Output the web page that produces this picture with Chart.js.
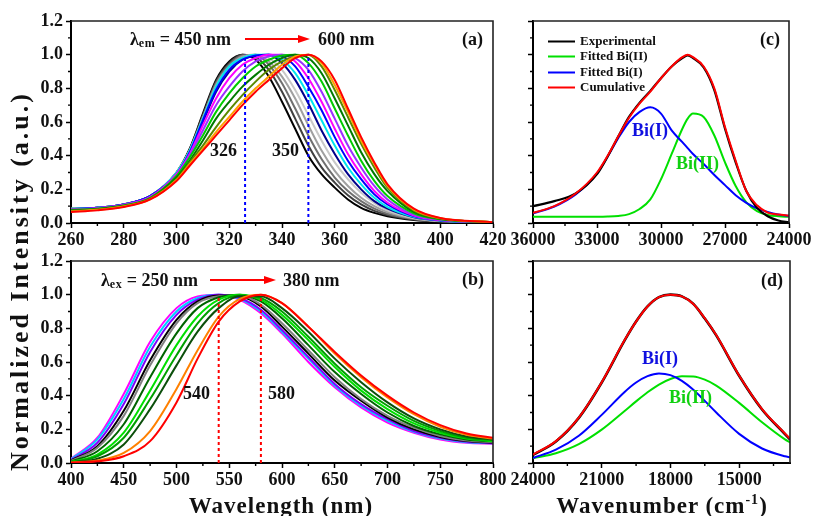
<!DOCTYPE html>
<html>
<head>
<meta charset="utf-8">
<script src="https://cdn.jsdelivr.net/npm/chart.js@4.4.1/dist/chart.umd.min.js"></script>
<style>
body { margin:0; background:#fff; width:814px; height:516px; overflow:hidden; position:relative;
  font-family:"Liberation Serif","Times New Roman",serif; font-weight:bold; color:#111; }
canvas { position:absolute; }
.t { position:absolute; transform:translate(-50%,-50%); white-space:nowrap; line-height:1; }
.l { position:absolute; transform:translateY(-50%); white-space:nowrap; line-height:1; font-size:18px; }
.lg { position:absolute; left:548px; transform:translateY(-50%); font-size:13px; line-height:1; white-space:nowrap; }
.lg i { display:inline-block; width:27px; height:2.5px; margin-right:5px; vertical-align:middle; }
</style>
</head>
<body>
<canvas id="ca" width="510" height="250" style="left:0;top:0"></canvas>
<canvas id="cb" width="510" height="250" style="left:0;top:240px"></canvas>
<canvas id="cc" width="314" height="250" style="left:500px;top:0"></canvas>
<canvas id="cd" width="314" height="250" style="left:500px;top:240px"></canvas>

<svg width="814" height="516" style="position:absolute;left:0;top:0">
  <line x1="245" y1="39" x2="300" y2="39" stroke="#f00" stroke-width="2"/>
  <polygon points="298,35 310,39 298,43" fill="#f00"/>
  <line x1="210" y1="280" x2="266" y2="280" stroke="#f00" stroke-width="2"/>
  <polygon points="264,276 276,280 264,284" fill="#f00"/>
</svg>

<div class="l" style="left:130px;top:39px">λ<span style="font-size:12px;vertical-align:-2px;letter-spacing:0.5px">em</span> = 450 nm</div>
<div class="l" style="left:318px;top:39px">600 nm</div>
<div class="l" style="left:462px;top:39px">(a)</div>
<div class="l" style="left:210px;top:150px">326</div>
<div class="l" style="left:272px;top:150px">350</div>

<div class="l" style="left:101px;top:280px">λ<span style="font-size:12px;vertical-align:-2px;letter-spacing:0.5px">ex</span> = 250 nm</div>
<div class="l" style="left:283px;top:280px">380 nm</div>
<div class="l" style="left:462px;top:279px">(b)</div>
<div class="l" style="left:183px;top:393px">540</div>
<div class="l" style="left:268px;top:393px">580</div>

<div class="l" style="left:760px;top:39px">(c)</div>
<div class="lg" style="top:40px"><i style="background:#000"></i>Experimental</div>
<div class="lg" style="top:55px"><i style="background:#00e000"></i>Fitted Bi(II)</div>
<div class="lg" style="top:71px"><i style="background:#0000ff"></i>Fitted Bi(I)</div>
<div class="lg" style="top:86px"><i style="background:#ff0000"></i>Cumulative</div>
<div class="l" style="left:632px;top:130px;color:#1010e0">Bi(I)</div>
<div class="l" style="left:676px;top:163px;color:#10d010">Bi(II)</div>

<div class="l" style="left:761px;top:280px">(d)</div>
<div class="l" style="left:642px;top:358px;color:#1010e0">Bi(I)</div>
<div class="l" style="left:669px;top:397px;color:#10d010">Bi(II)</div>

<div class="t" style="left:20px;top:281px;font-size:26px;letter-spacing:3px;transform:translate(-50%,-50%) rotate(-90deg)">Normalized Intensity (a.u.)</div>
<div class="t" style="left:281px;top:505px;font-size:23px;letter-spacing:1px">Wavelength (nm)</div>
<div class="t" style="left:662px;top:505px;font-size:23px;letter-spacing:1px">Wavenumber (cm<span style="font-size:14px;vertical-align:9px">-1</span>)</div>

<script>
// (a) excitation spectra, λem 450 -> 600 nm
const xA = [260,270,280,290,300,305,310,315,320,325,330,335,340,345,350,355,360,365,370,375,380,390,400,420];
const a1 = [0.085,0.09,0.11,0.16,0.30,0.44,0.65,0.85,0.96,1.0,0.97,0.87,0.72,0.56,0.40,0.29,0.21,0.14,0.09,0.06,0.04,0.018,0.009,0.003];
const a2 = [0.085,0.09,0.11,0.16,0.30,0.44,0.64,0.84,0.95,1.0,0.985,0.91,0.78,0.62,0.46,0.33,0.24,0.165,0.11,0.072,0.048,0.021,0.01,0.003];
const a3 = [0.085,0.09,0.11,0.16,0.30,0.43,0.63,0.83,0.94,0.995,1.0,0.94,0.83,0.68,0.52,0.38,0.27,0.19,0.13,0.085,0.055,0.024,0.011,0.003];
const a4 = [0.085,0.09,0.11,0.16,0.30,0.43,0.62,0.82,0.93,0.99,1.0,0.96,0.87,0.74,0.58,0.43,0.31,0.22,0.15,0.10,0.065,0.027,0.012,0.003];
const a5 = [0.085,0.09,0.11,0.16,0.30,0.43,0.62,0.81,0.92,0.98,1.0,0.98,0.91,0.79,0.64,0.49,0.36,0.26,0.18,0.12,0.075,0.03,0.013,0.003];
const a6 = [0.083,0.09,0.11,0.16,0.29,0.42,0.60,0.78,0.90,0.97,0.995,1.0,0.95,0.85,0.71,0.55,0.41,0.29,0.20,0.13,0.085,0.034,0.014,0.004];
const a7 = [0.085,0.09,0.11,0.16,0.30,0.43,0.62,0.81,0.93,0.98,1.0,1.0,0.97,0.89,0.76,0.61,0.46,0.33,0.23,0.15,0.095,0.037,0.015,0.004];
const a8 = [0.083,0.09,0.11,0.16,0.29,0.42,0.61,0.79,0.91,0.97,0.995,1.0,0.99,0.93,0.81,0.67,0.51,0.37,0.26,0.17,0.11,0.041,0.016,0.004];
const a9 = [0.082,0.088,0.108,0.155,0.29,0.41,0.58,0.74,0.86,0.94,0.98,1.0,1.0,0.96,0.86,0.72,0.56,0.41,0.29,0.19,0.12,0.045,0.018,0.004];
const a10 = [0.08,0.087,0.106,0.15,0.28,0.40,0.55,0.70,0.81,0.90,0.96,0.99,1.0,0.98,0.91,0.78,0.62,0.46,0.33,0.22,0.14,0.05,0.02,0.004];
const a11 = [0.078,0.085,0.104,0.15,0.28,0.39,0.52,0.66,0.77,0.86,0.93,0.97,0.995,1.0,0.95,0.84,0.68,0.52,0.37,0.25,0.16,0.058,0.022,0.005];
const a12 = [0.075,0.083,0.102,0.145,0.27,0.37,0.49,0.62,0.72,0.81,0.88,0.94,0.98,1.0,0.98,0.89,0.74,0.58,0.42,0.29,0.19,0.066,0.025,0.005];
const a13 = [0.072,0.08,0.10,0.145,0.26,0.36,0.46,0.57,0.67,0.76,0.84,0.91,0.96,0.99,1.0,0.93,0.79,0.63,0.47,0.33,0.21,0.074,0.027,0.005];
const a14 = [0.068,0.078,0.098,0.14,0.255,0.35,0.44,0.54,0.63,0.72,0.80,0.87,0.94,0.99,1.0,0.95,0.82,0.66,0.49,0.35,0.22,0.08,0.029,0.005];
const a15 = [0.065,0.075,0.095,0.14,0.25,0.34,0.43,0.52,0.61,0.70,0.78,0.85,0.92,0.98,1.0,0.96,0.85,0.68,0.51,0.36,0.23,0.085,0.03,0.005];
const markA = [326, 350];

// (b) emission spectra, λex 250 -> 380 nm
const xB = [400,425,450,475,500,520,540,560,580,600,625,650,675,700,725,750,775,800];
const b1 = [0.025,0.15,0.41,0.72,0.92,0.99,1.0,0.97,0.89,0.77,0.60,0.45,0.33,0.24,0.18,0.14,0.12,0.115];
const b2 = [0.022,0.14,0.38,0.69,0.90,0.98,1.0,0.975,0.90,0.78,0.62,0.46,0.34,0.25,0.185,0.145,0.123,0.117];
const b3 = [0.018,0.12,0.35,0.66,0.88,0.97,1.0,0.98,0.91,0.79,0.63,0.47,0.35,0.26,0.19,0.15,0.126,0.118];
const b4 = [0.015,0.10,0.31,0.61,0.85,0.96,0.995,0.99,0.93,0.81,0.65,0.49,0.37,0.27,0.20,0.155,0.13,0.12];
const b5 = [0.012,0.09,0.28,0.58,0.83,0.95,0.99,0.995,0.94,0.83,0.67,0.51,0.38,0.28,0.21,0.16,0.133,0.123];
const b6 = [0.009,0.07,0.23,0.51,0.77,0.92,0.985,1.0,0.96,0.86,0.70,0.54,0.41,0.30,0.22,0.17,0.14,0.128];
const b7 = [0.007,0.05,0.18,0.43,0.70,0.87,0.97,1.0,0.97,0.88,0.73,0.57,0.43,0.32,0.235,0.18,0.145,0.13];
const b8 = [0.005,0.04,0.15,0.38,0.64,0.83,0.95,0.995,0.98,0.90,0.75,0.59,0.45,0.34,0.25,0.19,0.15,0.135];
const b9 = [0.004,0.025,0.11,0.32,0.58,0.78,0.92,0.99,0.99,0.92,0.78,0.62,0.48,0.36,0.265,0.20,0.158,0.14];
const b10 = [0.003,0.015,0.06,0.19,0.44,0.67,0.87,0.975,1.0,0.95,0.81,0.65,0.51,0.39,0.29,0.215,0.168,0.145];
const b11 = [0.002,0.01,0.04,0.13,0.36,0.62,0.84,0.96,1.0,0.95,0.81,0.66,0.52,0.40,0.30,0.225,0.175,0.15];
const markB = [540, 580];

// (c) fit of excitation, wavenumber
const xC = [36000,35000,34000,33000,32500,32000,31500,31000,30500,30000,29500,29000,28750,28500,28000,27500,27000,26500,26000,25500,25000,24500,24000];
const expC = [0.10,0.13,0.175,0.29,0.395,0.515,0.63,0.715,0.785,0.86,0.93,0.98,0.995,0.98,0.925,0.79,0.56,0.36,0.19,0.09,0.04,0.015,0.004];
const bi2C = [0.037,0.037,0.037,0.037,0.038,0.042,0.053,0.083,0.14,0.26,0.41,0.56,0.62,0.65,0.63,0.52,0.36,0.22,0.123,0.071,0.048,0.04,0.037];
const bi1C = [0.058,0.098,0.17,0.295,0.395,0.505,0.60,0.66,0.687,0.65,0.55,0.48,0.445,0.41,0.35,0.285,0.225,0.165,0.12,0.087,0.065,0.05,0.042];
const cumC = [0.06,0.10,0.175,0.30,0.40,0.515,0.625,0.71,0.78,0.86,0.93,0.985,1.0,0.985,0.93,0.80,0.57,0.37,0.19,0.105,0.062,0.05,0.044];

// (d) fit of emission, wavenumber
const xD = [24000,23000,22000,21000,20000,19500,19000,18500,18000,17500,17000,16500,16000,15000,14000,13000,12780];
const expD = [0.048,0.128,0.268,0.478,0.728,0.84,0.93,0.985,1.0,0.99,0.945,0.858,0.758,0.518,0.318,0.172,0.14];
const bi2D = [0.028,0.058,0.112,0.198,0.309,0.366,0.42,0.466,0.499,0.515,0.514,0.495,0.46,0.357,0.242,0.14,0.122];
const bi1D = [0.03,0.079,0.162,0.286,0.422,0.478,0.516,0.532,0.522,0.488,0.435,0.369,0.30,0.173,0.086,0.04,0.034];
const cumD = [0.05,0.13,0.27,0.48,0.73,0.84,0.93,0.985,1.0,0.99,0.945,0.86,0.76,0.52,0.32,0.175,0.145];

// ticks
const yTicks = [0,0.2,0.4,0.6,0.8,1.0,1.2];
const yMinor = [0.1,0.3,0.5,0.7,0.9,1.1];
const xTicksA = [260,280,300,320,340,360,380,400,420];
const xMinorA = [270,290,310,330,350,370,390,410];
const xTicksB = [400,450,500,550,600,650,700,750,800];
const xMinorB = [425,475,525,575,625,675,725,775];
const xTicksC = [36000,33000,30000,27000,24000];
const xMinorC = [34500,31500,28500,25500];
const xTicksD = [24000,21000,18000,15000];
const xMinorD = [22500,19500,16500,13500];

Chart.defaults.font.family = "'Liberation Serif', 'Times New Roman', serif";
Chart.defaults.font.weight = 'bold';
Chart.defaults.font.size = 18;
Chart.defaults.color = '#111';

const colorsA = ['#000000','#404040','#707070','#a0a0a0','#c8c8c8','#00008b','#00e5ee','#0000ff','#ff00ff','#9b30ff','#00cc00','#007a00','#5a8a00','#ffa000','#ff0000'];
const colorsB = ['#ff00ff','#00d0ff','#7f00ff','#000000','#808080','#006400','#00e000','#00a000','#0b4f0b','#ff8000','#ff0000'];

function line(xs, ys, color, width, order, dash) {
  return {
    data: xs.map((x, i) => ({x: x, y: ys[i]})),
    borderColor: color, borderWidth: width, pointRadius: 0, fill: false,
    cubicInterpolationMode: 'monotone', order: order, borderDash: dash || []
  };
}

function marker(x, color) {
  return {
    data: [{x: x, y: 0}, {x: x, y: 1}],
    borderColor: color, borderWidth: 2, pointRadius: 0, borderDash: [3, 3], order: -1
  };
}

function framePlugin(xMinor) {
  return {
    id: 'frame',
    afterDraw(chart) {
      const ctx = chart.ctx, a = chart.chartArea, sx = chart.scales.x, sy = chart.scales.y;
      ctx.save();
      ctx.strokeStyle = '#222';
      ctx.lineWidth = 1.6;
      ctx.beginPath();
      ctx.moveTo(a.left, a.top);
      ctx.lineTo(a.right, a.top);
      ctx.lineTo(a.right, a.bottom);
      ctx.stroke();
      ctx.strokeStyle = '#000';
      ctx.lineWidth = 1.4;
      ctx.beginPath();
      xMinor.forEach(v => {
        const x = sx.getPixelForValue(v);
        ctx.moveTo(x, a.bottom); ctx.lineTo(x, a.bottom + 3);
      });
      yMinor.forEach(v => {
        const y = sy.getPixelForValue(v);
        ctx.moveTo(a.left, y); ctx.lineTo(a.left - 3, y);
      });
      ctx.stroke();
      ctx.restore();
    }
  };
}

function panel(id, datasets, o) {
  new Chart(document.getElementById(id), {
    type: 'line',
    data: { datasets: datasets },
    plugins: [framePlugin(o.xMinor)],
    options: {
      responsive: false, animation: false, devicePixelRatio: 1,
      layout: { autoPadding: false, padding: { left: 0, top: 21, right: o.right, bottom: 0 } },
      plugins: { legend: { display: false }, tooltip: { enabled: false } },
      scales: {
        x: {
          type: 'linear', min: o.min, max: o.max, reverse: !!o.reverse,
          afterBuildTicks: s => { s.ticks = o.xTicks.map(v => ({value: v})); },
          afterFit: s => { s.height = 27; },
          ticks: { padding: 2, maxRotation: 0, autoSkip: false, callback: v => String(v) },
          grid: { drawOnChartArea: false, drawTicks: true, tickLength: 5, tickColor: '#000', tickWidth: 1.5 },
          border: { color: '#000', width: 2 }
        },
        y: {
          min: 0, max: 1.2,
          afterBuildTicks: s => { s.ticks = yTicks.map(v => ({value: v})); },
          afterFit: s => { s.width = o.yWidth; },
          ticks: { padding: 3, callback: v => o.yLabels ? v.toFixed(1) : '' },
          grid: { drawOnChartArea: false, drawTicks: true, tickLength: 5, tickColor: '#000', tickWidth: 1.5 },
          border: { color: '#000', width: 2 }
        }
      }
    }
  });
}

const seriesA = [a1,a2,a3,a4,a5,a6,a7,a8,a9,a10,a11,a12,a13,a14,a15];
const setsA = seriesA.map((ys, i) => line(xA, ys, colorsA[i], 2, seriesA.length - i));
markA.forEach(x => setsA.push(marker(x, '#0000ff')));
panel('ca', setsA, { min: 260, max: 420, xTicks: xTicksA, xMinor: xMinorA, right: 17, yWidth: 71, yLabels: true });

const seriesB = [b1,b2,b3,b4,b5,b6,b7,b8,b9,b10,b11];
const setsB = seriesB.map((ys, i) => line(xB, ys, colorsB[i], 2, seriesB.length - i));
markB.forEach(x => setsB.push(marker(x, '#ff0000')));
panel('cb', setsB, { min: 400, max: 800, xTicks: xTicksB, xMinor: xMinorB, right: 17, yWidth: 71, yLabels: true });

panel('cc', [
  line(xC, bi2C, '#00e000', 2, 4),
  line(xC, bi1C, '#0000ff', 2, 3),
  line(xC, expC, '#000000', 2.2, 2),
  line(xC, cumC, '#ff0000', 2, 1)
], { min: 24000, max: 36000, reverse: true, xTicks: xTicksC, xMinor: xMinorC, right: 25, yWidth: 33, yLabels: false });

panel('cd', [
  line(xD, bi2D, '#00e000', 2, 4),
  line(xD, bi1D, '#0000ff', 2, 3),
  line(xD, expD, '#000000', 2.6, 2),
  line(xD, cumD, '#ff0000', 2, 1)
], { min: 12780, max: 24000, reverse: true, xTicks: xTicksD, xMinor: xMinorD, right: 24, yWidth: 33, yLabels: false });
</script>
</body>
</html>
